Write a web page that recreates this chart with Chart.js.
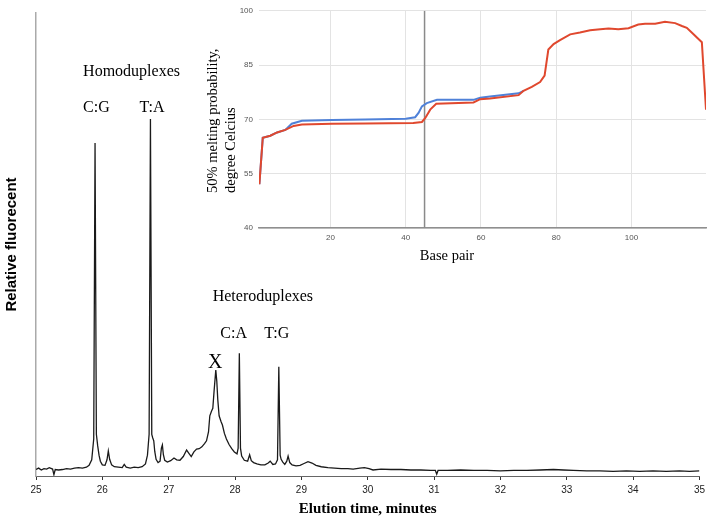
<!DOCTYPE html>
<html>
<head>
<meta charset="utf-8">
<title>Elution profile with melting inset</title>
<script src="https://cdn.jsdelivr.net/npm/chart.js@4.4.0/dist/chart.umd.min.js"></script>
<style>
  body { margin: 0; background: #fff; }
  #wrap { position: relative; width: 709px; height: 518px; }
  #main { position: absolute; left: 0; top: 0; }
  #inset { position: absolute; left: 200px; top: 0; }
</style>
</head>
<body>
<div id="wrap">
  <canvas id="main" width="709" height="518"></canvas>
  <canvas id="inset" width="509" height="272"></canvas>
</div>
<script>
// --- DATA: chromatogram (elution time in minutes, relative fluorescence) ---
const elutionMinutes = [
  25.00, 25.04, 25.08, 25.12, 25.16, 25.20, 25.25, 25.27, 25.29, 25.34, 25.40, 25.46, 25.52, 25.58, 25.64, 25.70, 25.76, 25.80,
  25.84, 25.87, 25.89, 25.91, 25.93, 25.95, 25.97, 26.00, 26.04, 26.07, 26.09, 26.11, 26.14, 26.18, 26.24, 26.30,
  26.33, 26.36, 26.42, 26.48, 26.54, 26.60, 26.65, 26.68, 26.705, 26.725, 26.745, 26.76, 26.775, 26.79, 26.81, 26.84,
  26.87, 26.89, 26.905, 26.92, 26.94, 26.98, 27.03, 27.08, 27.12, 27.17, 27.22, 27.27, 27.31, 27.34, 27.38, 27.42, 27.46, 27.50,
  27.54, 27.57, 27.60, 27.62, 27.645, 27.665, 27.685, 27.71, 27.725, 27.74, 27.76, 27.79, 27.81, 27.84, 27.87, 27.91, 27.95, 27.99,
  28.03, 28.047, 28.065, 28.082, 28.10, 28.14, 28.19, 28.22, 28.245, 28.28, 28.33, 28.39, 28.45, 28.50, 28.53, 28.57,
  28.61, 28.64, 28.66, 28.68, 28.695, 28.72, 28.75, 28.78, 28.80, 28.825, 28.86, 28.92, 28.98, 29.04, 29.10, 29.16, 29.22,
  29.30, 29.40, 29.50, 29.60, 29.70, 29.78, 29.88, 29.95, 30.02, 30.08, 30.20, 30.35, 30.50, 30.65, 30.80, 30.95, 31.02, 31.04,
  31.06, 31.20, 31.40, 31.60, 31.80, 32.00, 32.20, 32.40, 32.60, 32.80, 32.95, 33.10, 33.30, 33.50, 33.70, 33.90, 34.10, 34.30,
  34.50, 34.70, 34.85, 35.00
];
const fluorescence = [
  1.4, 1.7, 1.3, 1.6, 1.5, 1.8, 1.5, 0.3, 1.4, 1.3, 1.4, 1.6, 1.5, 1.7, 1.8, 1.7, 1.9, 2.3,
  3.5, 8, 71.9, 9, 6.5, 4.5, 3.2, 2.4, 2.3, 3.5, 5.4, 3.6, 2.4, 2.0, 1.9, 1.8,
  2.5, 1.9, 1.7, 1.9, 1.8, 2.0, 2.6, 4.5, 9, 77.1, 9, 8.2, 7.6, 5.3, 3.6, 2.9,
  3.2, 6.0, 6.7, 4.6, 3.4, 3.0, 3.3, 3.9, 3.5, 3.4, 4.2, 5.6, 4.8, 4.2, 5.2, 5.8, 5.9, 6.3,
  7.0, 7.6, 9.5, 13.0, 14.0, 14.6, 18.5, 22.9, 20.5, 16.5, 13.0, 11.7, 11.0, 9.2, 8.0, 6.8, 5.9, 5.2,
  4.8, 6, 26.5, 6, 4.3, 3.4, 3.2, 4.6, 3.3, 2.9, 2.6, 2.4, 2.4, 2.8, 3.2, 2.5,
  2.6, 3.5, 23.6, 4.5, 3.6, 3.0, 2.5, 3.2, 4.3, 2.9, 2.4, 2.2, 2.3, 2.7, 3.1, 2.8, 2.3,
  2.0, 1.8, 1.7, 1.6, 1.6, 1.5, 1.7, 1.8, 1.6, 1.3, 1.5, 1.4, 1.4, 1.3, 1.3, 1.2, 1.2, 0.4,
  1.2, 1.2, 1.3, 1.2, 1.2, 1.1, 1.2, 1.2, 1.3, 1.4, 1.3, 1.2, 1.1, 1.1, 1.0, 1.1, 1.0, 1.1,
  1.0, 1.1, 1.0, 1.1
];
const elutionTicks = [25, 26, 27, 28, 29, 30, 31, 32, 33, 34, 35];

// peak annotations (text, elution time, signal level)
const peakLabels = ['Homoduplexes', 'C:G', 'T:A', 'Heteroduplexes', 'C:A', 'T:G', 'X'];
const peakLabelMinutes = [26.44, 25.91, 26.75, 28.42, 27.98, 28.63, 27.70];
const peakLabelSignal = [87.3, 79.6, 79.6, 38.7, 30.7, 30.7, 24.4];

// --- DATA: inset melting profile (base pair, 50% melting temperature) ---
const redBasePair = [1.1, 2.0, 4.0, 5.8, 8.0, 10.2, 12.4, 20.4, 29.2, 42.0, 44.3, 45.2, 46.5, 48.1, 58.0, 59.8, 62.4, 70.0,
  71.3, 73.5, 75.7, 76.9, 77.9, 79.3, 81.0, 83.7, 86.3, 89.0, 91.7, 93.9, 96.5, 99.2, 101.8, 103.6, 106.3, 108.9, 111.6,
  113.4, 114.7, 116.0, 118.7, 119.8];
const redMeltTemp = [52.1, 64.9, 65.5, 66.4, 67.1, 68.2, 68.6, 68.8, 68.9, 69.0, 69.3, 70.4, 72.7, 74.3, 74.7, 75.6, 75.8, 76.7,
  77.9, 79.0, 80.3, 82.1, 89.3, 90.8, 91.9, 93.5, 94.0, 94.6, 94.9, 95.1, 94.9, 95.2, 96.2, 96.4, 96.4, 97.0, 96.6,
  95.8, 95.3, 94.0, 91.3, 72.7];
const blueBasePair = [1.1, 2.0, 4.0, 5.8, 8.0, 9.7, 12.4, 20.4, 29.2, 40.0, 42.5, 43.4, 44.3, 45.6, 48.3, 58.0, 59.8, 62.4, 70.0, 71.3];
const blueMeltTemp = [52.1, 64.9, 65.5, 66.4, 67.1, 68.8, 69.6, 69.8, 70.0, 70.2, 70.6, 71.8, 73.6, 74.5, 75.4, 75.4, 76.0, 76.3, 77.2, 77.9];
const markerBasePair = 45;
const meltTicks = [40, 55, 70, 85, 100];

const toPoints = (xs, ys) => xs.map((x, i) => ({ x: x, y: ys[i] }));

// --- MAIN CHART ---

// draws the peak names over the trace
const peakLabelPlugin = {
    id: 'peakLabels',
    afterDatasetsDraw(chart) {
        const { ctx, scales } = chart;
        ctx.save();
        ctx.fillStyle = '#000';
        ctx.textAlign = 'center';
        ctx.textBaseline = 'middle';
        peakLabels.forEach((text, i) => {
            const size = text === 'X' ? 20 : 16;
            ctx.font = `${size}px "Liberation Serif", "Times New Roman", serif`;
            ctx.fillText(text, scales.x.getPixelForValue(peakLabelMinutes[i]), scales.y.getPixelForValue(peakLabelSignal[i]));
        });
        ctx.restore();
    }
};

new Chart(document.getElementById('main'), {
    type: 'line',
    data: {
        datasets: [{
            data: toPoints(elutionMinutes, fluorescence),
            borderColor: '#1a1a1a',
            borderWidth: 1.3,
            pointRadius: 0,
            tension: 0,
            fill: false
        }]
    },
    options: {
        responsive: false,
        animation: false,
        layout: { padding: { top: 13, right: 9, left: 0, bottom: 0 } },
        plugins: { legend: { display: false }, tooltip: { enabled: false } },
        scales: {
            x: {
                type: 'linear',
                min: 25,
                max: 35,
                afterBuildTicks: (scale) => { scale.ticks = elutionTicks.map(v => ({ value: v })); },
                afterFit: (scale) => { scale.height = 42; },
                grid: { display: true, drawOnChartArea: false, drawTicks: true, tickLength: 4, color: '#333' },
                border: { display: true, color: '#666', width: 1 },
                ticks: { color: '#222', padding: 4, font: { family: '"Liberation Sans", Arial, sans-serif', size: 10 } },
                title: {
                    display: true,
                    text: 'Elution time, minutes',
                    color: '#000',
                    padding: { top: 3, bottom: 0 },
                    font: { family: '"Liberation Serif", "Times New Roman", serif', size: 15, weight: 'bold' }
                }
            },
            y: {
                min: 0,
                max: 100,
                afterFit: (scale) => { scale.width = 36; },
                grid: { display: false },
                border: { display: true, color: '#aaa', width: 1.5 },
                ticks: { display: false },
                title: {
                    display: true,
                    text: 'Relative fluorecent',
                    color: '#000',
                    padding: { top: 3, bottom: 0 },
                    font: { family: '"Liberation Sans", Arial, sans-serif', size: 15, weight: 'bold' }
                }
            }
        }
    },
    plugins: [peakLabelPlugin]
});

// --- INSET CHART ---

// axis titles of the inset, placed like the original figure
const insetTitlePlugin = {
    id: 'insetTitles',
    afterDraw(chart) {
        const { ctx, chartArea } = chart;
        ctx.save();
        ctx.fillStyle = '#000';
        ctx.font = '14.5px "Liberation Serif", "Times New Roman", serif';
        ctx.textBaseline = 'middle';
        ctx.textAlign = 'center';
        ctx.fillText('Base pair', chartArea.left + 188, chartArea.bottom + 28);
        const lines = ['50% melting probability,', 'degree Celcius'];
        lines.forEach((line, i) => {
            ctx.save();
            ctx.translate(chartArea.left - 45.5 + i * 18, chartArea.bottom - 35);
            ctx.rotate(-Math.PI / 2);
            ctx.textAlign = 'left';
            ctx.fillText(line, 0, 0);
            ctx.restore();
        });
        ctx.restore();
    }
};

new Chart(document.getElementById('inset'), {
    type: 'line',
    data: {
        datasets: [
            {
                label: 'red',
                data: toPoints(redBasePair, redMeltTemp),
                borderColor: '#e0482e',
                borderWidth: 2,
                pointRadius: 0,
                tension: 0,
                fill: false
            },
            {
                label: 'blue',
                data: toPoints(blueBasePair, blueMeltTemp),
                borderColor: '#4f81d8',
                borderWidth: 2,
                pointRadius: 0,
                tension: 0,
                fill: false
            },
            {
                label: 'marker',
                data: [{ x: markerBasePair, y: meltTicks[0] }, { x: markerBasePair, y: meltTicks[meltTicks.length - 1] }],
                borderColor: '#8a8a8a',
                borderWidth: 1.5,
                pointRadius: 0,
                fill: false
            }
        ]
    },
    options: {
        responsive: false,
        animation: false,
        layout: { padding: { top: 5, right: 3, left: 0, bottom: 0 } },
        plugins: { legend: { display: false }, tooltip: { enabled: false } },
        scales: {
            x: {
                type: 'linear',
                min: 1,
                max: 119.8,
                ticks: {
                    stepSize: 20,
                    includeBounds: false,
                    padding: 5,
                    color: '#555',
                    font: { family: '"Liberation Sans", Arial, sans-serif', size: 8 }
                },
                afterFit: (scale) => { scale.height = 44; },
                grid: { color: '#e3e3e3', drawTicks: false },
                border: { display: true, color: '#8f8f8f', width: 1.5 }
            },
            y: {
                min: 40,
                max: 100,
                afterBuildTicks: (scale) => { scale.ticks = meltTicks.map(v => ({ value: v })); },
                afterFit: (scale) => { scale.width = 59; },
                ticks: {
                    padding: 6,
                    color: '#555',
                    font: { family: '"Liberation Sans", Arial, sans-serif', size: 8 }
                },
                grid: { color: '#e3e3e3', drawTicks: false },
                border: { display: false }
            }
        }
    },
    plugins: [insetTitlePlugin]
});
</script>
</body>
</html>
